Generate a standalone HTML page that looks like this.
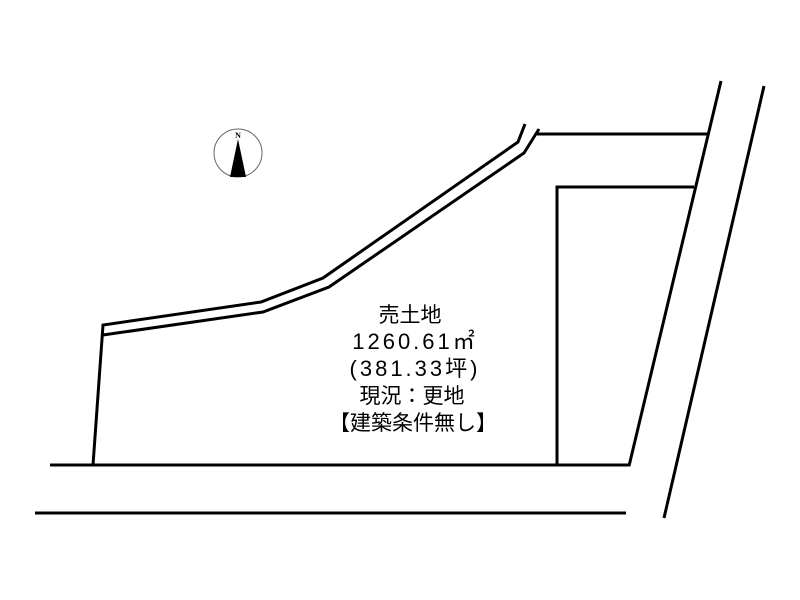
<!DOCTYPE html>
<html><head><meta charset="utf-8"><style>
body{margin:0;background:#fff;width:800px;height:600px;overflow:hidden}
svg{display:block}
</style></head><body>
<svg width="800" height="600" viewBox="0 0 800 600" xmlns="http://www.w3.org/2000/svg">
<g stroke="#000" stroke-width="3" fill="none" stroke-linejoin="miter">
<polyline points="93,465 103,325 261,302 323,278 518,142 525,124"/>
<polyline points="103,335 263,312 329,287 524,153 539,129"/>
<line x1="537" y1="134" x2="709" y2="134"/>
<line x1="721" y1="81" x2="629" y2="466"/>
<line x1="764" y1="86" x2="664" y2="518"/>
<polyline points="557,465 557,187 694,187"/>
<line x1="50" y1="465" x2="630" y2="465"/>
<line x1="35" y1="513" x2="626" y2="513"/>
</g>
<circle cx="238" cy="153" r="24" fill="none" stroke="#666" stroke-width="1"/>
<polygon points="238,139 230,177 246,177" fill="#000"/>
<text x="238" y="138" font-family="Liberation Serif,serif" font-size="8" font-weight="bold" text-anchor="middle">N</text>
<g font-family="'Liberation Sans','Noto Sans CJK JP',sans-serif" font-size="20" text-anchor="middle" fill="#000">
<text x="410" y="322" font-size="21">売土地</text>
<text x="415" y="349" font-size="22" letter-spacing="3">1260.61㎡</text>
<text x="415" y="376" font-size="22" letter-spacing="3">(381.33坪)</text>
<text x="412" y="403" font-size="21">現況：更地</text>
<text x="413" y="430" font-size="21">【建築条件無し】</text>
</g>
</svg>
</body></html>
